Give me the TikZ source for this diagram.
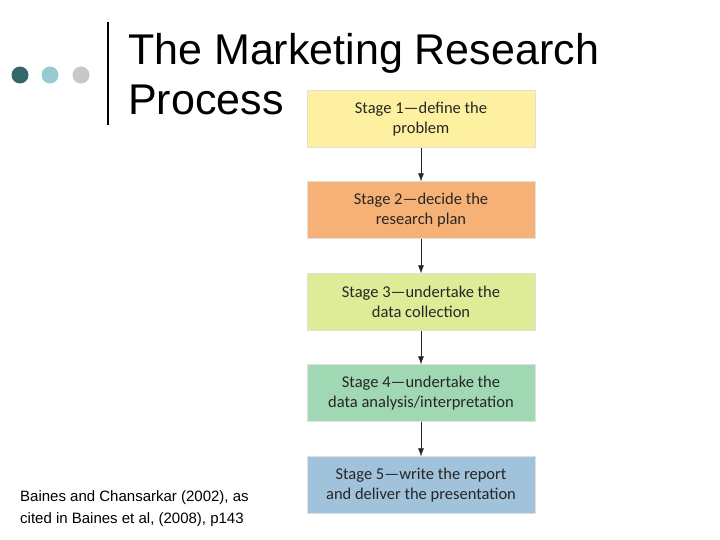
\documentclass[tikz,border=0pt]{standalone}
\usepackage{fontspec}
\usetikzlibrary{arrows.meta}
\setmainfont{Liberation Sans}
\newfontfamily\boxfont{Carlito}
\definecolor{dotA}{RGB}{52,104,106}
\definecolor{dotB}{RGB}{150,204,208}
\begin{document}
\begin{tikzpicture}[x=1pt,y=-1pt,
  stagebox/.style={draw=black!12,minimum width=228pt,minimum height=57pt,align=center,font=\boxfont\fontsize{16.5}{20}\selectfont,text=black!85},
  arr/.style={-{Latex[length=8pt,width=6pt]},black!85,semithick}]
\useasboundingbox (0,0) rectangle (720,540);
\fill[white] (0,0) rectangle (720,540);
\fill[dotA] (20,75) circle (8.5);
\fill[dotB] (50,75) circle (8.5);
\fill[black!22] (81,75) circle (8.5);
\draw[line width=2pt] (108,22) -- (108,125);
\node[anchor=base west,font=\fontsize{43}{46}\selectfont,inner sep=0] (t1) at (128,65) {The Marketing Research};
\node[anchor=base west,font=\fontsize{43}{46}\selectfont,inner sep=0] (t2) at (128,115) {Process};
\node[stagebox,fill={rgb,255:red,253;green,240;blue,160}] (s1) at (421,119) {Stage 1—define the\\problem};
\node[stagebox,fill={rgb,255:red,246;green,178;blue,118}] (s2) at (421,210) {Stage 2—decide the\\research plan};
\node[stagebox,fill={rgb,255:red,222;green,236;blue,152}] (s3) at (421,302) {Stage 3—undertake the\\data collection};
\node[stagebox,fill={rgb,255:red,160;green,216;blue,180}] (s4) at (421,393) {Stage 4—undertake the\\data analysis/interpretation};
\node[stagebox,fill={rgb,255:red,160;green,194;blue,218}] (s5) at (421,485) {Stage 5—write the report\\and deliver the presentation};
\draw[arr] (s1) -- (s2);
\draw[arr] (s2) -- (s3);
\draw[arr] (s3) -- (s4);
\draw[arr] (s4) -- (s5);
\node[anchor=north west,align=left,font=\fontsize{15}{22}\selectfont,inner sep=0] (c) at (20,490) {Baines and Chansarkar (2002), as\\cited in Baines et al, (2008), p143};
\end{tikzpicture}
\end{document}
